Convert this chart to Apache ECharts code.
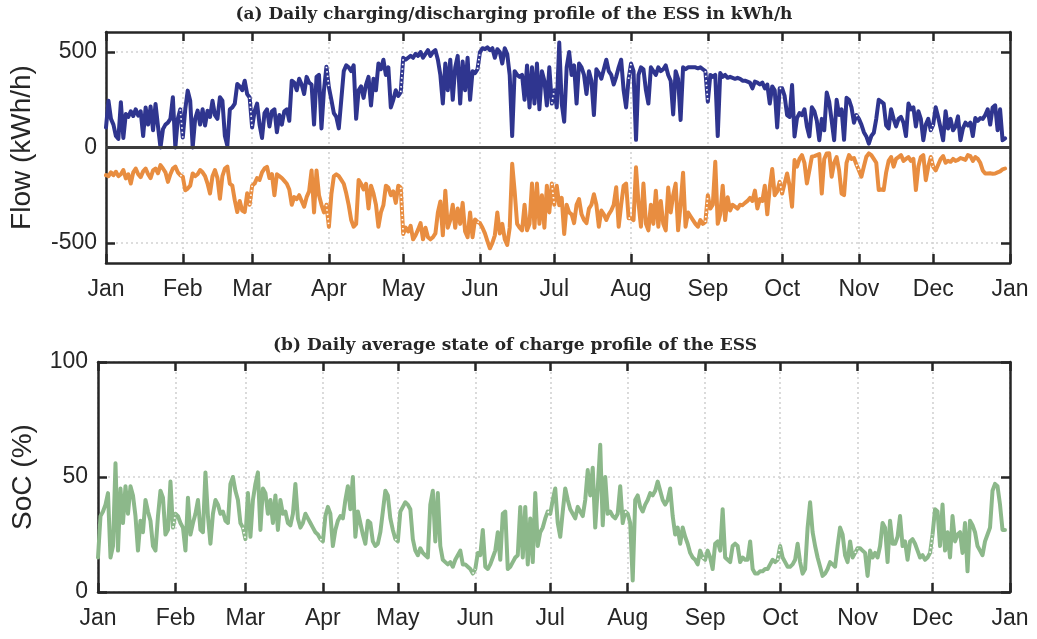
<!DOCTYPE html>
<html><head><meta charset="utf-8">
<script src="https://cdn.jsdelivr.net/npm/echarts@6/dist/echarts.min.js"></script>
<style>html,body{margin:0;padding:0;background:#fff}#c{width:1037px;height:639px}</style>
</head><body><div id="c"></div>
<script>
const monthLabels = ['Jan','Feb','Mar','Apr','May','Jun','Jul','Aug','Sep','Oct','Nov','Dec','Jan'];
const monthStarts = [0,31,59,90,120,151,181,212,243,273,304,334,365];
const flowTicks = [-500,0,500];
const socTicks = [0,50,100];

// daily charging flow (kWh/h), one value per day
const charging = [
105,245,150,120,60,45,237,50,175,160,190,165,200,167,190,60,210,120,215,90,228,110,0,96,120,130,150,263,0,150,200,
52,200,298,245,0,150,193,120,200,115,193,160,245,170,150,263,245,60,9,200,210,230,333,320,300,350,280,262,
105,190,230,120,50,180,200,110,190,200,80,170,120,190,200,140,350,340,300,360,330,280,370,340,330,120,370,380,100,300,423,
315,250,180,160,100,250,400,430,420,400,430,150,300,320,260,330,370,220,360,300,440,410,460,380,420,210,250,300,270,290,
470,460,470,480,470,490,480,500,470,490,510,480,500,510,460,380,230,440,300,460,250,420,480,230,450,300,470,250,400,390,410,
500,520,515,525,510,520,470,515,500,440,520,490,380,60,400,380,370,380,250,430,210,420,230,440,200,400,350,220,420,230,
300,210,550,230,135,420,500,380,430,230,440,420,380,280,400,350,170,410,390,360,410,460,400,380,330,370,420,460,300,210,360,
440,400,40,380,420,410,300,230,420,400,380,420,400,410,430,380,350,173,400,360,144,420,410,420,420,420,420,415,420,410,400,
240,380,370,380,60,390,370,380,365,370,365,360,365,360,350,350,345,340,310,345,340,330,340,310,330,230,320,300,105,310,
310,270,170,160,327,58,154,180,170,200,110,58,211,190,140,38,150,90,288,240,140,38,250,170,200,40,260,250,210,130,170,
150,120,80,58,20,60,77,150,250,240,230,115,100,200,150,110,150,160,130,60,230,200,210,110,190,150,38,120,150,90,
120,211,160,100,38,190,100,150,90,110,163,38,100,130,115,130,60,154,140,154,150,170,200,120,210,221,90,200,38,48
];

// daily discharging flow (kWh/h)
const discharging = [
-145,-150,-130,-145,-127,-150,-140,-118,-162,-140,-189,-130,-110,-140,-155,-125,-110,-140,-160,-120,-110,-135,-92,-110,-130,-180,-140,-110,-100,-130,-145,
-153,-224,-215,-200,-136,-150,-140,-118,-130,-150,-189,-241,-150,-118,-160,-268,-150,-110,-100,-190,-200,-277,-338,-280,-330,-338,-240,-300,
-200,-189,-160,-170,-130,-110,-101,-160,-140,-250,-140,-150,-160,-175,-190,-220,-300,-260,-270,-250,-280,-310,-260,-230,-120,-340,-120,-250,-300,-340,-300,
-415,-245,-151,-140,-150,-170,-190,-240,-302,-380,-415,-400,-170,-190,-220,-190,-320,-200,-240,-300,-415,-340,-302,-200,-210,-250,-230,-290,-200,-210,
-453,-420,-440,-410,-481,-460,-430,-396,-481,-420,-470,-481,-470,-450,-340,-283,-460,-226,-420,-380,-300,-420,-320,-400,-290,-440,-470,-340,-470,-377,-390,
-396,-420,-450,-490,-528,-500,-460,-340,-450,-400,-480,-510,-420,-85,-230,-400,-420,-434,-300,-434,-400,-189,-420,-189,-400,-250,-420,-200,-340,-189,
-300,-200,-302,-264,-453,-300,-340,-350,-396,-300,-270,-350,-380,-396,-320,-300,-245,-300,-415,-330,-350,-380,-350,-330,-300,-208,-415,-300,-200,-189,-370,
-370,-380,-104,-290,-415,-189,-400,-434,-300,-400,-226,-415,-280,-400,-434,-210,-340,-250,-189,-434,-300,-132,-415,-340,-360,-380,-400,-415,-380,-400,-390,
-250,-320,-300,-75,-400,-350,-200,-380,-260,-330,-300,-310,-320,-300,-302,-290,-280,-264,-280,-226,-320,-270,-280,-200,-350,-210,-113,-250,-230,-180,
-241,-188,-136,-200,-310,-66,-100,-60,-40,-80,-188,-120,-48,-45,-40,-35,-241,-60,-31,-30,-153,-80,-50,-120,-241,-250,-80,-40,-60,-55,-90,
-120,-153,-100,-48,-31,-40,-60,-80,-223,-220,-223,-130,-70,-50,-100,-60,-50,-40,-70,-60,-50,-70,-60,-223,-100,-50,-40,-171,-100,-50,
-101,-120,-90,-60,-45,-80,-70,-75,-60,-70,-65,-55,-60,-65,-40,-45,-70,-50,-60,-80,-120,-136,-136,-135,-138,-136,-130,-125,-115,-110
];

// daily average state of charge (%)
const soc = [
15,33,35,38,43,15,20,56,18,45,30,46,34,46,42,33,18,31,26,40,35,31,20,18,33,44,41,25,27,48,28,
34,33,30,28,18,41,25,30,34,40,27,26,52,33,21,34,40,38,34,35,31,30,47,50,44,40,30,28,
23,43,24,40,47,52,27,45,43,34,40,30,42,27,40,34,35,30,29,34,47,32,28,30,34,32,30,28,26,25,23,
22,33,37,34,20,27,31,33,32,40,46,36,50,24,35,30,25,21,31,30,22,20,21,26,35,44,42,32,27,23,
22,35,37,39,38,36,23,18,16,19,17,16,15,38,44,22,43,20,14,13,12,13,11,14,16,18,12,12,11,10,8,
10,17,16,27,11,10,12,15,18,26,14,34,35,10,11,13,15,16,37,15,37,12,32,13,43,20,26,28,32,35,
34,40,45,30,24,35,45,40,36,34,32,37,35,33,40,53,42,54,28,45,64,29,50,34,35,33,32,34,46,30,35,
34,30,5,40,42,37,35,38,40,43,42,44,48,44,40,38,40,45,33,25,28,21,28,24,21,17,15,14,12,18,15,
14,18,15,10,21,22,18,36,15,14,13,20,21,20,13,15,14,14,22,10,8,8,9,9,10,10,12,14,13,14,
20,15,13,11,11,12,14,21,13,8,10,28,39,26,20,15,11,7,8,10,13,12,11,20,28,25,16,13,22,15,17,
19,19,18,17,7,18,15,17,15,20,30,28,13,31,21,21,24,33,20,22,14,22,23,21,18,15,16,14,15,17,
25,36,35,20,38,18,26,15,33,22,25,26,17,30,9,31,29,26,20,18,16,22,25,28,44,47,46,38,27,27
];

const days = Array.from({length: 366}, (_, i) => i);
const isMonth = (i) => monthStarts.indexOf(i) >= 0;
function connectors(arr) {
  const c = arr.map(() => null);
  monthStarts.forEach(s => { if (s > 0 && s < arr.length) { c[s - 1] = arr[s - 1]; c[s] = arr[s]; } });
  return c;
}

const TXT = '#262626';
const FONT = 'Liberation Sans';
const axLine = { show: true, onZero: false, lineStyle: { color: TXT, width: 2.5 } };
const tickStyle = { color: TXT, width: 2.5 };
const gridLine = { color: '#d2d2d2', width: 1.6, type: [2, 3] };
const BLUE = '#2f358f', ORANGE = '#e88d40', GREEN = '#8cb88a';
const TICK = { show: true, inside: true, length: 9 };

function xBottom(g) {
  return {
    type: 'category', gridIndex: g, data: days, boundaryGap: false, position: 'bottom',
    axisLine: axLine,
    axisTick: Object.assign({ interval: (i) => isMonth(i), lineStyle: tickStyle }, TICK),
    axisLabel: { interval: (i) => isMonth(i), formatter: (v) => monthLabels[monthStarts.indexOf(+v)],
      fontSize: 23, color: TXT, fontFamily: FONT, margin: 15 },
    splitLine: { show: true, interval: (i) => isMonth(i), lineStyle: gridLine }
  };
}
function xTop(g) {
  return {
    type: 'category', gridIndex: g, data: days, boundaryGap: false, position: 'top',
    axisLine: axLine,
    axisTick: Object.assign({ interval: (i) => isMonth(i), lineStyle: tickStyle }, TICK),
    axisLabel: { show: false }, splitLine: { show: false }
  };
}
function yLeft(g, min, max, ticks, name, gap, margin) {
  return {
    type: 'value', gridIndex: g, min: min, max: max, position: 'left',
    axisLine: axLine,
    axisTick: Object.assign({ customValues: ticks, lineStyle: tickStyle }, TICK),
    axisLabel: { customValues: ticks, fontSize: 23, color: TXT, fontFamily: FONT, margin: margin },
    splitLine: { show: true, lineStyle: gridLine },
    name: name, nameLocation: 'middle', nameGap: gap, nameMoveOverlap: false,
    nameTextStyle: { fontSize: 28, color: TXT, fontFamily: FONT }
  };
}
function yRight(g, min, max, ticks) {
  return {
    type: 'value', gridIndex: g, min: min, max: max, position: 'right',
    axisLine: axLine,
    axisTick: Object.assign({ customValues: ticks, lineStyle: tickStyle }, TICK),
    axisLabel: { show: false, customValues: ticks }, splitLine: { show: false }
  };
}
function line(data, color, xi, yi, extra) {
  return Object.assign({
    type: 'line', xAxisIndex: xi, yAxisIndex: yi, data: data, symbol: 'none', showSymbol: false,
    lineStyle: { color: color, width: 4, join: 'round', cap: 'round' }, itemStyle: { color: color },
    z: 3, animation: false, silent: true
  }, extra || {});
}
function conn(data, xi, yi) {
  return {
    type: 'line', xAxisIndex: xi, yAxisIndex: yi, data: connectors(data), symbol: 'none', showSymbol: false,
    connectNulls: false, lineStyle: { color: '#ffffff', width: 1.7, type: [1.5, 3] },
    z: 4, animation: false, silent: true
  };
}

const chart = echarts.init(document.getElementById('c'), null, { renderer: 'canvas' });
chart.setOption({
  animation: false,
  backgroundColor: '#ffffff',
  grid: [
    { left: 106, right: 27, top: 32, height: 231, containLabel: false, outerBoundsMode: 'none' },
    { left: 98, right: 27, top: 362, height: 230, containLabel: false, outerBoundsMode: 'none' }
  ],
  xAxis: [xBottom(0), xTop(0), xBottom(1), xTop(1)],
  yAxis: [
    yLeft(0, -605, 605, flowTicks, 'Flow (kWh/h)', 70, 9),
    yRight(0, -605, 605, flowTicks),
    yLeft(1, 0, 100, socTicks, 'SoC (%)', 61, 10),
    yRight(1, 0, 100, socTicks)
  ],
  graphic: [
    { type: 'text', x: 514, y: 15, z: 100, style: { text: '(a) Daily charging/discharging profile of the ESS in kWh/h',
      font: 'bold 17px "DejaVu Serif"', fill: TXT, align: 'center', verticalAlign: 'middle' } },
    { type: 'text', x: 515, y: 346, z: 100, style: { text: '(b) Daily average state of charge profile of the ESS',
      font: 'bold 17px "DejaVu Serif"', fill: TXT, align: 'center', verticalAlign: 'middle' } }
  ],
  series: [
    line(charging, BLUE, 0, 0, {
      markLine: { silent: true, symbol: ['none', 'none'], label: { show: false }, animation: false,
        lineStyle: { color: '#3c3c3c', width: 3, type: 'solid' }, data: [{ yAxis: 0 }] }
    }),
    line(discharging, ORANGE, 0, 0),
    conn(charging, 0, 0),
    conn(discharging, 0, 0),
    line(soc, GREEN, 2, 2),
    conn(soc, 2, 2)
  ]
});
</script>
</body></html>
